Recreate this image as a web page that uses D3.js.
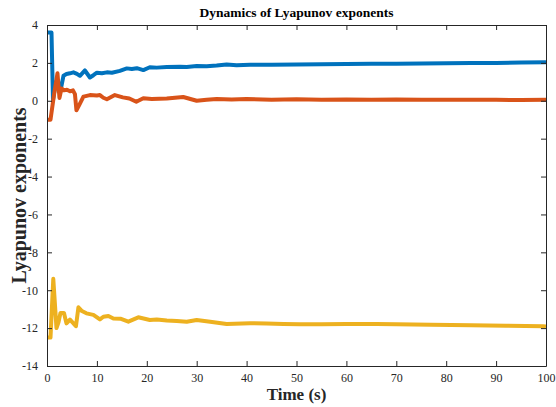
<!DOCTYPE html>
<html>
<head>
<meta charset="utf-8">
<script src="https://cdn.jsdelivr.net/npm/d3@7"></script>
<style>
  body { margin: 0; background: #fff; }
  text { font-family: "Liberation Serif", "Times New Roman", serif; }
</style>
</head>
<body>
<div id="chart"></div>
<script>
// size of the whole svg
const width = 556;
const height = 407;
const margin = {top: 25, right: 10, bottom: 41, left: 47};

// colours (matlab defaults)
const blueColour = "#0072BD";
const orangeColour = "#D95319";
const yellowColour = "#EDB120";
const axisColour = "#262626";

// data
const blueTime = [0, 0.9, 1.2, 1.6, 2.0, 2.4, 2.8, 3.3, 3.9, 4.6, 5.3, 6.0, 6.6, 7.6, 8.6, 9.3, 10, 11, 12, 13, 14.6, 16, 17, 18, 19.3, 20.6, 22, 24, 26.7, 28, 30, 32, 34, 36, 38, 40.7, 45, 50, 55, 60, 65, 70, 75, 80, 85, 90, 95, 100];
const blueValues = [3.6, 3.6, 0.05, 0.7, 1.1, 0.9, 0.65, 1.32, 1.41, 1.45, 1.5, 1.42, 1.32, 1.6, 1.23, 1.35, 1.48, 1.45, 1.5, 1.48, 1.58, 1.71, 1.68, 1.72, 1.62, 1.77, 1.75, 1.78, 1.8, 1.78, 1.83, 1.82, 1.86, 1.92, 1.88, 1.9, 1.9, 1.92, 1.93, 1.94, 1.95, 1.95, 1.97, 1.98, 1.99, 2.0, 2.02, 2.04];

const orangeTime = [0, 0.7, 1.4, 2.1, 2.5, 2.9, 3.4, 4.0, 4.6, 5.2, 5.6, 5.9, 6.5, 7.3, 8.6, 10, 10.6, 11.3, 12, 13.6, 15.2, 16.5, 17.9, 19.3, 21, 24, 27.3, 30, 32, 34, 37, 40, 45, 50, 55, 60, 65, 70, 75, 80, 85, 90, 95, 100];
const orangeValues = [-1.0, -1.0, 0.3, 1.45, 0.15, 0.65, 0.55, 0.58, 0.5, 0.55, 0.35, -0.5, -0.2, 0.22, 0.3, 0.28, 0.3, 0.16, 0.08, 0.3, 0.18, 0.12, -0.05, 0.13, 0.1, 0.12, 0.2, 0.0, 0.05, 0.09, 0.07, 0.09, 0.06, 0.08, 0.06, 0.07, 0.05, 0.07, 0.06, 0.05, 0.06, 0.05, 0.04, 0.05];

const yellowTime = [0, 0.7, 1.26, 1.9, 2.3, 2.7, 3.4, 3.9, 4.6, 5.3, 5.8, 6.3, 7.0, 7.9, 9.3, 10.6, 11.3, 12.3, 13.3, 14.7, 16.3, 18.3, 20.6, 22, 24, 26, 28, 30, 32.7, 36, 40.7, 44, 47.4, 50.7, 55, 60, 66, 70, 77, 85, 92, 99.4, 100];
const yellowValues = [-12.5, -12.5, -9.4, -12.0, -11.7, -11.2, -11.2, -11.75, -11.55, -11.75, -11.9, -10.9, -11.1, -11.22, -11.3, -11.54, -11.4, -11.36, -11.49, -11.5, -11.66, -11.43, -11.57, -11.55, -11.6, -11.62, -11.66, -11.57, -11.66, -11.78, -11.74, -11.76, -11.78, -11.8, -11.79, -11.78, -11.78, -11.8, -11.82, -11.85, -11.87, -11.9, -11.92];

const xTicks = [0, 10, 20, 30, 40, 50, 60, 70, 80, 90, 100];
const yTicks = [4, 2, 0, -2, -4, -6, -8, -10, -12, -14];

const series = [
  {t: blueTime, v: blueValues, colour: blueColour},
  {t: orangeTime, v: orangeValues, colour: orangeColour},
  {t: yellowTime, v: yellowValues, colour: yellowColour}
];

/// SVG ///
const svg = d3.select("#chart")
  .append("svg")
    .attr("width", width)
    .attr("height", height)

/// Scales ///
const xScale = d3.scaleLinear()
  .domain([0, 100])
  .range([margin.left, width - margin.right])
const yScale = d3.scaleLinear()
  .domain([-14, 4])
  .range([height - margin.bottom, margin.top])

/// Lines ///
svg.append("clipPath").attr("id", "plot-clip")
  .append("rect")
    .attr("x", margin.left)
    .attr("y", margin.top)
    .attr("width", width - margin.left - margin.right)
    .attr("height", height - margin.top - margin.bottom)

const line = d3.line(d => xScale(d[0]), d => yScale(d[1]))

svg.append("g")
  .attr("clip-path", "url(#plot-clip)")
  .selectAll(".series")
  .data(series)
  .join("path")
    .attr("class", "series")
    .attr("fill", "none")
    .attr("stroke", d => d.colour)
    .attr("stroke-width", 4)
    .attr("stroke-linejoin", "round")
    .attr("d", d => line(d.t.map((t, i) => [t, d.v[i]])))

/// Axes (matlab style, ticks inside on all four sides) ///
const tickStyle = g => g
  .call(g => g.selectAll(".tick line").attr("stroke", axisColour))
  .call(g => g.selectAll(".tick text").attr("fill", axisColour).attr("font-size", "12px")
    .attr("font-family", "'Liberation Serif', 'Times New Roman', serif"))
  .call(g => g.select(".domain").attr("stroke", axisColour))

svg.append("g")
  .attr("transform", `translate(0, ${height - margin.bottom})`)
  .call(d3.axisBottom(xScale).tickValues(xTicks).tickSizeInner(-5).tickSizeOuter(0).tickPadding(7))
  .call(tickStyle)

svg.append("g")
  .attr("transform", `translate(0, ${margin.top})`)
  .call(d3.axisTop(xScale).tickValues(xTicks).tickSizeInner(-5).tickSizeOuter(0).tickFormat(""))
  .call(tickStyle)

svg.append("g")
  .attr("transform", `translate(${margin.left}, 0)`)
  .call(d3.axisLeft(yScale).tickValues(yTicks).tickSizeInner(-5).tickSizeOuter(0).tickPadding(9)
    .tickFormat(d => d < 0 ? "-" + Math.abs(d) : d))
  .call(tickStyle)

svg.append("g")
  .attr("transform", `translate(${width - margin.right}, 0)`)
  .call(d3.axisRight(yScale).tickValues(yTicks).tickSizeInner(-5).tickSizeOuter(0).tickFormat(""))
  .call(tickStyle)

/// Title and labels ///
const centreX = (margin.left + width - margin.right) / 2;

svg.append("text")
  .attr("x", centreX)
  .attr("y", 17)
  .attr("text-anchor", "middle")
  .attr("font-size", "13.5px")
  .attr("font-weight", "bold")
  .attr("fill", "#000")
  .text("Dynamics of Lyapunov exponents")

svg.append("text")
  .attr("x", centreX)
  .attr("y", 400)
  .attr("text-anchor", "middle")
  .attr("font-size", "17px")
  .attr("font-weight", "bold")
  .attr("fill", axisColour)
  .text("Time (s)")

svg.append("text")
  .attr("transform", `translate(26, ${(margin.top + height - margin.bottom) / 2})rotate(-90)`)
  .attr("text-anchor", "middle")
  .attr("font-size", "20px")
  .attr("font-weight", "bold")
  .attr("fill", axisColour)
  .text("Lyapunov exponents")
</script>
</body>
</html>
